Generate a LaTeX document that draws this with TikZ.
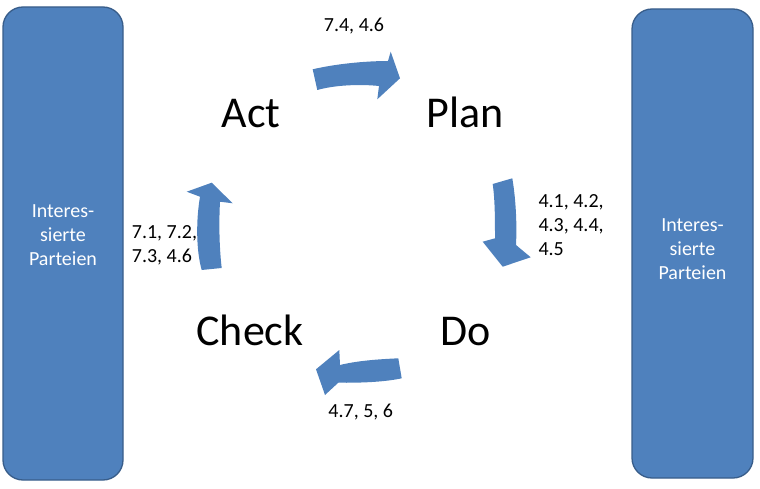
\documentclass[tikz,border=0pt]{standalone}
\usepackage{fontspec}
\setmainfont{Carlito}
\definecolor{pdcablue}{HTML}{4F81BD}
\definecolor{pdcaedge}{HTML}{385D8A}
\begin{document}
\begin{tikzpicture}[x=1pt,y=-1pt,
  sidebox/.style={draw=pdcaedge,line width=1.3pt,fill=pdcablue,rounded corners=20pt},
  boxtext/.style={text=white,font=\fontsize{20}{24}\selectfont,align=center,inner sep=0pt},
  phase/.style={font=\fontsize{44}{50}\selectfont,inner sep=0pt,anchor=base},
  refs/.style={font=\fontsize{20}{24}\selectfont,inner sep=0pt},
  blockarrow/.style={fill=pdcablue,draw=none}]
\useasboundingbox (0,0) rectangle (760,489);
% side boxes
\draw[sidebox] (3,7) rectangle (123,480);
\draw[sidebox] (632,9) rectangle (753,478);
\node[boxtext] (lefttxt) at (63,235.6) {Interes-\\sierte\\Parteien};
\node[boxtext] (righttxt) at (692.5,249.6) {Interes-\\sierte\\Parteien};
% phase labels
\node[phase] (act) at (251,128) {Act};
\node[phase] (plan) at (465.5,128) {Plan};
\node[phase] (check) at (250,345) {Check};
\node[phase] (do) at (466,345) {Do};
% reference labels
\node[refs,anchor=base] (topref) at (354,31.7) {7.4, 4.6};
\node[refs,anchor=west,align=left] (rightref) at (538.3,225.4) {4.1, 4.2,\\4.3, 4.4,\\4.5};
\node[refs,anchor=base] (botref) at (360.8,417.3) {4.7, 5, 6};
\node[refs,anchor=west,align=left] (leftref) at (131.7,245) {7.1, 7.2,\\7.3, 4.6};
% curved block arrows
\fill[blockarrow] (312.7,69.3) .. controls (335,64) and (365,61) .. (388,61)
  -- (390.7,51.7) -- (400,78.3) -- (377.3,99.3) -- (379,86)
  .. controls (360,84) and (335,85) .. (317.3,90) -- cycle;
\fill[blockarrow] (512.3,178.3) .. controls (516,200) and (517,225) .. (516,245)
  -- (530.7,257.3) -- (502.7,266.7) -- (482.7,241.7) -- (495,238.3)
  .. controls (495,220) and (495,200) .. (492.7,184) -- cycle;
\fill[blockarrow] (398.3,358.3) .. controls (385,359) and (360,360) .. (340,365)
  -- (339.3,350) -- (316,369.3) -- (325,395) -- (338.3,382.7)
  .. controls (360,383) and (385,382) .. (401.7,378.3) -- cycle;
\fill[blockarrow] (201.7,270) .. controls (196,250) and (196,220) .. (200,196.7)
  -- (186.7,191.7) -- (211.7,182.7) -- (232.7,203.3) -- (220,201.7)
  .. controls (219,220) and (219,245) .. (221.7,268) -- cycle;
\end{tikzpicture}
\end{document}
